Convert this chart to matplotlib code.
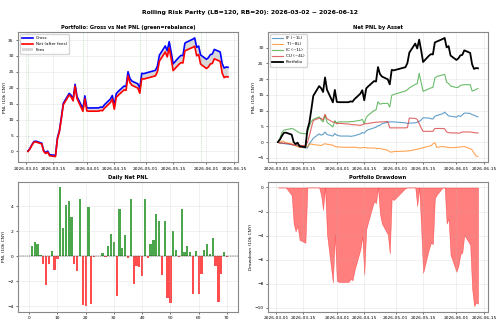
import numpy as np
import pandas as pd
import matplotlib

matplotlib.use("Agg")
import matplotlib.pyplot as plt
import matplotlib.dates as mdates

# --- Trading calendar (China futures, holidays removed) ---
holidays = ["2026-04-06", "2026-05-01", "2026-05-04", "2026-05-05"]
dates = pd.bdate_range("2026-03-02", "2026-06-12")
dates = dates[~dates.isin(pd.to_datetime(holidays))]
rebalance_idx = [0, 20, 40, 60]

# --- Daily net PNL (10k CNY) ---
daily_net = [
    0.0, 0.8, 1.15, 0.95, 0.1, -0.65, -2.35, -0.65, 0.45, -1.15,
    -0.25, 5.5, 2.25, 4.1, 4.4, 3.1, -0.65, -1.2, 4.6, -3.9,
    -4.0, 3.95, -3.8, -0.1, 0.0, 0.0, 0.25, -0.1, 0.8, 1.75,
    1.1, -3.2, 3.75, 0.65, 1.7, -0.15, 4.6, -2.2, -0.8, -0.9,
    -1.6, 4.6, -0.15, 1.0, 1.3, 3.35, 2.85, -1.55, 2.8, -3.35,
    -3.75, 2.0, 0.5, -0.1, 3.8, 0.3, 0.8, 0.35, -3.0, 0.4,
    -3.0, -1.4, 0.5, 0.95, 0.15, 1.45, -0.8, -3.65, -1.45, 0.3,
    -0.1,
]

# --- Daily fees (10k CNY) ---
daily_fee = (
    [0.15] + [0.02] * 10 + [0.03] * 9 + [0.25] + [0.05] * 2 + [0.02] * 14
    + [0.03] * 3 + [0.25] + [0.05] * 8 + [0.07] * 9 + [0.03] * 2 + [0.2]
    + [0.015] * 10
)

# --- Cumulative net PNL by asset (10k CNY) ---
pnl_if = [
    0.0, -0.3, -0.5, -0.4, -0.6, -0.8, -1.0, -0.9, -1.2, -1.5,
    -1.9, -1.9, -0.5, 0.3, 1.2, 2.6, 2.2, 2.4, 3.2, 2.4,
    1.9, 2.7, 2.2, 2.0, 1.9, 1.9, 1.8, 1.9, 2.0, 2.6,
    3.0, 2.8, 3.6, 3.9, 4.5, 4.7, 5.2, 5.3, 5.8, 6.3,
    6.4, 6.4, 6.4, 6.1, 5.9, 6.0, 6.1, 6.3, 6.6, 7.0,
    7.7, 7.6, 7.4, 7.3, 8.2, 8.4, 9.0, 9.5, 8.9, 8.3,
    8.2, 7.9, 8.4, 8.1, 8.6, 9.2, 9.1, 8.7, 8.5, 8.2,
    8.0,
]
pnl_t = [
    0.0, -0.2, 0.3, 0.2, -0.3, -0.5, -1.0, -1.2, -1.5, -1.7,
    -1.6, -1.5, -0.8, -0.6, -0.8, -1.0, -1.1, -0.8, -0.5, -0.7,
    -1.0, -1.4, -1.5, -1.6, -1.6, -1.7, -1.6, -1.7, -1.6, -1.9,
    -1.8, -1.7, -1.8, -1.9, -1.9, -2.0, -2.1, -2.0, -2.2, -2.6,
    -3.1, -3.2, -3.0, -2.9, -2.8, -2.8, -2.4, -2.3, -2.1, -2.0,
    -1.8, -1.3, -1.2, -0.6, -0.2, -1.7, -1.4, -1.5, -1.6, -1.7,
    -1.8, -1.7, -1.6, -1.6, -1.5, -1.4, -2.1, -2.5, -3.5, -4.4,
    -4.6,
]
pnl_ic = [
    0.0, 1.2, 3.0, 3.8, 3.9, 4.3, 4.1, 3.7, 3.3, 2.9,
    2.6, 3.0, 5.0, 6.5, 7.2, 8.0, 7.0, 6.4, 8.5, 6.3,
    4.8, 6.8, 6.0, 6.4, 6.4, 6.4, 6.5, 6.5, 6.6, 6.9,
    7.2, 5.8, 7.8, 8.5, 10.0, 10.2, 12.8, 12.0, 12.2, 12.3,
    11.1, 14.8, 15.1, 16.2, 16.6, 17.2, 18.3, 18.5, 21.8, 18.9,
    16.1, 16.9, 17.2, 17.3, 20.3, 20.8, 21.3, 21.5, 19.0, 18.6,
    17.8, 17.3, 17.4, 18.0, 18.1, 18.2, 18.2, 16.2, 16.4, 16.7,
    17.0,
]
pnl_cu = [
    0.0, -0.4, -0.2, -0.5, -0.3, -0.8, -0.9, -1.0, -0.9, -1.0,
    -1.2, -0.2, 2.0, 4.5, 6.8, 7.6, 7.5, 7.0, 8.8, 7.4,
    6.3, 6.3, 5.8, 5.9, 5.9, 5.7, 5.6, 5.5, 5.5, 5.3,
    5.5, 5.8, 5.8, 5.9, 6.2, 6.3, 6.3, 6.4, 6.4, 6.5,
    4.5, 4.5, 4.5, 4.5, 4.6, 7.6, 7.5, 7.2, 5.9, 4.5,
    3.4, 3.4, 3.4, 3.4, 4.3, 4.3, 4.3, 4.2, 3.2, 3.0,
    2.9, 2.9, 2.8, 2.9, 3.2, 3.2, 3.2, 3.1, 3.0, 2.9,
    2.9,
]
asset_names = ["IF (~1L)", "T (~8L)", "IC (~1L)", "CU (~4L)"]
asset_colors = ["#1f77b4", "#ff7f0e", "#2ca02c", "#d62728"]

# --- Derived series ---
net = np.cumsum(daily_net)
gross = net + np.cumsum(daily_fee)
drawdown = net - np.maximum.accumulate(net)

# --- Style ---
plt.rcParams["font.family"] = "DejaVu Sans"
plt.rcParams["font.size"] = 3.2
plt.rcParams["axes.edgecolor"] = "#888888"
plt.rcParams["axes.linewidth"] = 0.8
plt.rcParams["xtick.major.size"] = 1.5
plt.rcParams["ytick.major.size"] = 1.5
plt.rcParams["xtick.major.width"] = 0.4
plt.rcParams["ytick.major.width"] = 0.4
plt.rcParams["xtick.major.pad"] = 1.5
plt.rcParams["ytick.major.pad"] = 1.5

fig, axes = plt.subplots(2, 2, figsize=(5, 3.23), dpi=100)
fig.subplots_adjust(left=0.036, right=0.976, top=0.901, bottom=0.034,
                    wspace=0.136, hspace=0.146)
fig.suptitle("Rolling Risk Parity (LB=120, RB=20): 2026-03-02 ~ 2026-06-12",
             fontsize=4.4, fontweight="bold", y=0.968)

date_loc = mdates.DayLocator(bymonthday=[1, 15])
date_fmt = mdates.DateFormatter("%Y-%m-%d")
title_kw = dict(fontsize=3.7, fontweight="bold", pad=2)

# --- Gross vs Net ---
ax = axes[0, 0]
ax.plot(dates, gross, color="blue", lw=1.2, label="Gross")
ax.plot(dates, net, color="red", lw=1.2, label="Net (after fees)")
ax.fill_between(dates, net, gross, color="gray", alpha=0.3, lw=0, label="Fees")
for i in rebalance_idx:
    ax.axvline(dates[i], color="green", ls=":", lw=0.5, alpha=0.4)
ax.set_title("Portfolio: Gross vs Net PNL (green=rebalance)", **title_kw)
ax.set_ylabel("PNL (10k CNY)", labelpad=1)
ax.legend(loc="upper left", fontsize=3.0, handlelength=2.5, borderpad=0.5)

# --- Net PNL by asset ---
ax = axes[0, 1]
for vals, name, col in zip([pnl_if, pnl_t, pnl_ic, pnl_cu], asset_names, asset_colors):
    ax.plot(dates, vals, color=col, lw=0.8, alpha=0.7, label=name)
ax.plot(dates, net, color="black", lw=1.3, label="Portfolio")
ax.set_title("Net PNL by Asset", **title_kw)
ax.set_ylabel("PNL (10k CNY)", labelpad=1)
ax.legend(loc="upper left", fontsize=3.0, handlelength=2.5, borderpad=0.5)

# --- Daily net PNL ---
ax = axes[1, 0]
bar_colors = ["green" if v >= 0 else "red" for v in daily_net]
ax.bar(np.arange(len(daily_net)), daily_net, width=0.8, color=bar_colors, alpha=0.7)
ax.axhline(0, color="black", ls="--", lw=0.3)
ax.set_xticks(np.arange(0, 71, 10))
ax.set_title("Daily Net PNL", **title_kw)
ax.set_ylabel("PNL (10k CNY)", labelpad=1)

# --- Drawdown ---
ax = axes[1, 1]
ax.fill_between(dates, drawdown, 0, color="red", alpha=0.5, lw=0.4)
ax.set_title("Portfolio Drawdown", **title_kw)
ax.set_ylabel("Drawdown (10k CNY)", labelpad=1)

for ax in axes.flat:
    ax.grid(True, alpha=0.3, lw=0.4)
for ax in [axes[0, 0], axes[0, 1], axes[1, 1]]:
    ax.xaxis.set_major_locator(date_loc)
    ax.xaxis.set_major_formatter(date_fmt)

plt.savefig("out.png", dpi=100)
plt.close()
